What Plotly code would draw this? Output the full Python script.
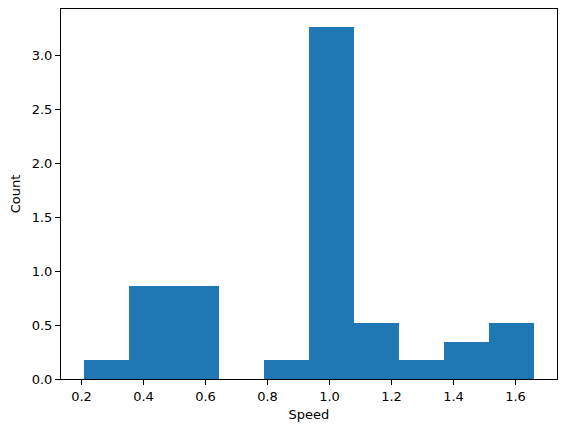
import plotly.graph_objects as go

# Histogram bins (density normalised)
bin_edges = [0.2065, 0.3520, 0.4974, 0.6429, 0.7883, 0.9338,
             1.0792, 1.2247, 1.3701, 1.5156, 1.6610]
counts = [1, 5, 5, 0, 1, 19, 3, 1, 2, 3]

total = sum(counts)
centers = [(a + b) / 2 for a, b in zip(bin_edges[:-1], bin_edges[1:])]
widths = [b - a for a, b in zip(bin_edges[:-1], bin_edges[1:])]
density = [c / (total * w) for c, w in zip(counts, widths)]

x_ticks = [0.2, 0.4, 0.6, 0.8, 1.0, 1.2, 1.4, 1.6]
y_ticks = [0.0, 0.5, 1.0, 1.5, 2.0, 2.5, 3.0]

span = bin_edges[-1] - bin_edges[0]
x_range = [bin_edges[0] - 0.05 * span, bin_edges[-1] + 0.05 * span]
y_range = [0, max(density) * 1.05]

fig = go.Figure()
fig.add_trace(go.Bar(
    x=centers,
    y=density,
    width=widths,
    marker=dict(color='#1f77b4', line=dict(width=0)),
    showlegend=False,
))

axis_style = dict(
    showline=True, linecolor='black', linewidth=1, mirror=True,
    ticks='outside', ticklen=5, tickcolor='black', tickwidth=1,
    showgrid=False, zeroline=False, automargin=False,
    tickfont=dict(size=13, color='black'),
)

# page body has an 8px margin, so the figure is sized to fit inside it
fig.update_layout(
    width=559, height=424,
    margin=dict(l=53, r=10, t=1, b=53),
    paper_bgcolor='white', plot_bgcolor='white',
    font=dict(family='DejaVu Sans', size=13, color='black'),
    bargap=0,
    xaxis=dict(range=x_range, tickvals=x_ticks,
               ticktext=[f'{v:.1f}' for v in x_ticks],
               title=dict(text='Speed', font=dict(size=13), standoff=7),
               **axis_style),
    yaxis=dict(range=y_range, tickvals=y_ticks,
               ticktext=[f'{v:.1f}' for v in y_ticks],
               title=dict(text='Count', font=dict(size=13), standoff=8),
               **axis_style),
)

fig.write_html("out.html")
